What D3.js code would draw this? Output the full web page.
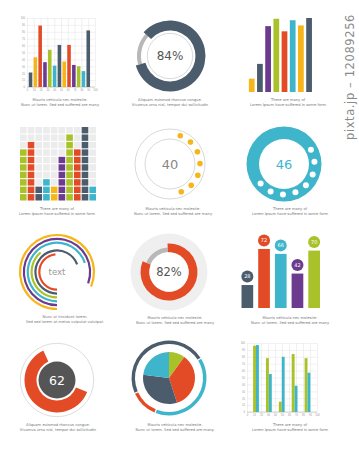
<!DOCTYPE html>
<html><head><meta charset="utf-8">
<script src="https://cdnjs.cloudflare.com/ajax/libs/d3/7.8.5/d3.min.js"></script>
<style>body{margin:0;background:#fff}svg{display:block;font-family:"DejaVu Sans",sans-serif}</style>
</head><body><svg id="c" width="359" height="450"></svg>
<script>
// ---------- data ----------
const palette = {slate:"#4b5c6d", yellow:"#f6b619", red:"#e34b26", purple:"#6c3a8e", green:"#aac22a", cyan:"#3eb5cb"};
const axisTicks = [0,10,20,30,40,50,60,70,80,90,100];
const p1Values = [21,43,89,36,54,31,61,37,61,32,30,23,82];
const p1Colors = ["slate","yellow","red","purple","green","cyan","slate","yellow","red","purple","green","cyan","slate"];
const p2Percent = 84;
const p3Values = [18,38,89,99,82,97,90,100];
const p3Colors = ["yellow","slate","purple","green","red","cyan","yellow","slate"];
const p4Values = [7,8,2,3,2,6,9,7,10,2];
const p4Colors = ["green","red","slate","cyan","yellow","purple","green","red","slate","cyan"];
const p5Value = 40;
const p5DotAngles = [20,43,66,89,112,135,158];
const p6Value = 46;
const p6DotAngles = [62,86,110,134,158,182,206,230];
const p7Label = "text";
const p7Spans = [293,290,252,140,249,175];
const p7Colors = ["yellow","purple","cyan","green","slate","red"];
const p8Percent = 82;
const p9Values = [28,72,66,42,70];
const p9Colors = ["slate","red","cyan","purple","green"];
const p10Value = 62;
const p11Slices = [10,35,32,23];
const p11SliceColors = ["green","red","slate","cyan"];
const p11Ring = [48,40,12];
const p11RingColors = ["slate","cyan","red"];
const p12A = [96,78,15,84,78];
const p12B = [97,55,80,38,57];
const capA = ["Mauris vehicula nec molestie.","Nunc ut lorem. Sed sed  suffered  are many"];
const capB = ["Aliquam euismod rhoncus congue.","Vivamus urna nisl,  tempor dui sollicitudin"];
const capC = ["There are many  of","Lorem Ipsum  have suffered  in some form"];
const capD = ["Nunc ut tincidunt lorem.","Sed sed lorem at metus vulputat volutpat."];

// ---------- helpers ----------
const svg = d3.select("#c");
const rad = d => d*Math.PI/180;
const arc = d3.arc();

svg.append("text").attr("transform","translate(354,140) rotate(-90)")
  .attr("font-size",11.5).attr("fill","#8a8a8a").attr("letter-spacing",0.6).text("pixta.jp – 12089256");

function caption(cx, y, lines){
  lines.forEach((t,i)=>svg.append("text").attr("x",cx).attr("y",y+i*5.2)
    .attr("text-anchor","middle").attr("font-size",3.7).attr("fill","#777").text(t));
}
function grid(g, x0,x1,y0,y1){
  const gx = d3.scaleLinear([0,100],[x0,x1]);
  const gy = d3.scaleLinear([0,100],[y1,y0]);
  const ax = g.append("g").attr("transform",`translate(0,${y1})`)
    .call(d3.axisBottom(gx).tickValues(axisTicks).tickSize(-(y1-y0)).tickPadding(2));
  const ay = g.append("g").attr("transform",`translate(${x0},0)`)
    .call(d3.axisLeft(gy).tickValues(axisTicks).tickSize(-(x1-x0)).tickPadding(2));
  [ax,ay].forEach(a=>{
    a.select(".domain").remove();
    a.selectAll("line").attr("stroke","#e2e2e2").attr("stroke-width",0.5);
    a.selectAll("text").attr("font-size",2.6).attr("fill","#999");
  });
  g.append("line").attr("x1",x0).attr("x2",x1).attr("y1",y1).attr("y2",y1).attr("stroke","#bbb").attr("stroke-width",0.6);
  return {gx,gy};
}

// ---------- panel 1 ----------
{
  const g = svg.append("g");
  const {gy} = grid(g,27,95,18,87);
  const xb = d3.scaleBand(d3.range(p1Values.length),[27.5,91.3]).padding(0.26);
  g.selectAll("rect.b").data(p1Values).join("rect")
    .attr("x",(d,i)=>xb(i)).attr("width",xb.bandwidth())
    .attr("y",d=>gy(d)).attr("height",d=>gy(0)-gy(d))
    .attr("fill",(d,i)=>palette[p1Colors[i]]);
  caption(60,101,capA);
}

// ---------- panel 2 ----------
{
  const g = svg.append("g").attr("transform","translate(170,56)");
  const start = -48, span = 360*p2Percent/100;
  g.append("path").attr("d",arc({innerRadius:29,outerRadius:33,startAngle:rad(start+span),endAngle:rad(start+360)})).attr("fill","#b8b8b8");
  g.append("path").attr("d",arc({innerRadius:25.5,outerRadius:35.5,startAngle:rad(start),endAngle:rad(start+span)})).attr("fill",palette.slate);
  g.append("circle").attr("r",22.7).attr("fill","none").attr("stroke","#c8c8c8").attr("stroke-width",0.7);
  g.append("text").attr("y",4.2).attr("text-anchor","middle").attr("font-size",12).attr("fill","#555").text(p2Percent+"%");
  caption(170,101,capB);
}

// ---------- panel 3 ----------
{
  const g = svg.append("g");
  const xb = d3.scaleBand(d3.range(p3Values.length),[246.4,314.4]).padding(0.3);
  const y = d3.scaleLinear([0,100],[92,18]);
  g.selectAll("rect").data(p3Values).join("rect")
    .attr("x",(d,i)=>xb(i)).attr("width",xb.bandwidth())
    .attr("y",d=>y(d)).attr("height",d=>y(0)-y(d))
    .attr("fill",(d,i)=>palette[p3Colors[i]]);
  caption(288,101,capC);
}

// ---------- panel 4 ----------
{
  const g = svg.append("g");
  const xs = d3.scaleBand(d3.range(10),[20,96]).paddingInner(0.14);
  const ys = d3.scaleBand(d3.range(10),[200.5,127]).paddingInner(0.14);
  const cells = [];
  p4Values.forEach((v,c)=>d3.range(10).forEach(r=>cells.push({c,r,on:r<v})));
  g.selectAll("rect").data(cells).join("rect")
    .attr("x",d=>xs(d.c)).attr("y",d=>ys(d.r)).attr("width",xs.bandwidth()).attr("height",ys.bandwidth())
    .attr("fill",d=>d.on?palette[p4Colors[d.c]]:"#ececec");
  caption(57,210,capC);
}

// ---------- panel 5 ----------
{
  const g = svg.append("g").attr("transform","translate(170,164)");
  g.append("circle").attr("r",35).attr("fill","none").attr("stroke","#c8c8c8").attr("stroke-width",0.7);
  g.append("circle").attr("r",25).attr("fill","none").attr("stroke","#c8c8c8").attr("stroke-width",0.7);
  g.selectAll("circle.d").data(p5DotAngles).join("circle").attr("class","d")
    .attr("cx",a=>30*Math.sin(rad(a))).attr("cy",a=>-30*Math.cos(rad(a))).attr("r",2.8).attr("fill",palette.yellow);
  g.append("text").attr("y",4.5).attr("text-anchor","middle").attr("font-size",13).attr("fill","#888").text(p5Value);
  caption(173,210,capA);
}

// ---------- panel 6 ----------
{
  const g = svg.append("g").attr("transform","translate(284,164)");
  g.append("path").attr("d",arc({innerRadius:25,outerRadius:37.5,startAngle:0,endAngle:2*Math.PI})).attr("fill",palette.cyan);
  g.selectAll("circle.d").data(p6DotAngles).join("circle").attr("class","d")
    .attr("cx",a=>30.5*Math.sin(rad(a))).attr("cy",a=>-30.5*Math.cos(rad(a))).attr("r",3).attr("fill","#fff");
  g.append("text").attr("y",4.5).attr("text-anchor","middle").attr("font-size",13).attr("fill",palette.cyan).text(p6Value);
  caption(290,210,capC);
}

// ---------- panel 7 ----------
{
  const g = svg.append("g").attr("transform","translate(57,272)");
  const radii = d3.scaleLinear([0,p7Spans.length-1],[37,17.7]);
  g.selectAll("path").data(p7Spans).join("path")
    .attr("d",(s,i)=>arc({innerRadius:radii(i)-1.1,outerRadius:radii(i)+1.1,startAngle:rad(180),endAngle:rad(180+s)}))
    .attr("fill",(s,i)=>palette[p7Colors[i]]);
  g.append("text").attr("y",3).attr("text-anchor","middle").attr("font-size",8.5).attr("fill","#999").text(p7Label);
  caption(65,318,capD);
}

// ---------- panel 8 ----------
{
  const g = svg.append("g").attr("transform","translate(169,272)");
  g.append("circle").attr("r",38.5).attr("fill","#efefef");
  const start = -3, span = 360*p8Percent/100;
  g.append("path").attr("d",arc({innerRadius:20,outerRadius:24.5,startAngle:rad(start+span),endAngle:rad(start+360)})).attr("fill","#b8b8b8");
  g.append("path").attr("d",arc({innerRadius:19.5,outerRadius:28.5,startAngle:rad(start),endAngle:rad(start+span)})).attr("fill",palette.red);
  g.append("circle").attr("r",19.7).attr("fill","#fff");
  g.append("text").attr("y",4).attr("text-anchor","middle").attr("font-size",11.5).attr("fill","#555").text(p8Percent+"%");
  caption(175,318.5,capA);
}

// ---------- panel 9 ----------
{
  const g = svg.append("g");
  const xb = d3.scaleBand(d3.range(p9Values.length),[236.5,325]).padding(0.3);
  const y = d3.scaleLinear([0,100],[308,226]);
  g.selectAll("rect").data(p9Values).join("rect")
    .attr("x",(d,i)=>xb(i)).attr("width",xb.bandwidth())
    .attr("y",d=>y(d)).attr("height",d=>y(0)-y(d))
    .attr("fill",(d,i)=>palette[p9Colors[i]]);
  g.selectAll("circle").data(p9Values).join("circle")
    .attr("cx",(d,i)=>xb(i)+xb.bandwidth()/2).attr("cy",d=>y(d)-8.5).attr("r",6)
    .attr("fill",(d,i)=>palette[p9Colors[i]]);
  g.selectAll("text.v").data(p9Values).join("text").attr("class","v")
    .attr("x",(d,i)=>xb(i)+xb.bandwidth()/2).attr("y",d=>y(d)-6.7)
    .attr("text-anchor","middle").attr("font-size",5).attr("fill","#fff").text(d=>d);
  caption(290,318.5,capA);
}

// ---------- panel 10 ----------
{
  const g = svg.append("g").attr("transform","translate(57,380)");
  g.append("circle").attr("r",36.7).attr("fill","none").attr("stroke","#cfcfcf").attr("stroke-width",0.7);
  const end = 335, span = 360*p10Value/100;
  g.append("path").attr("d",arc({innerRadius:20.5,outerRadius:32.5,startAngle:rad(end-span),endAngle:rad(end)})).attr("fill",palette.red);
  g.append("circle").attr("r",18.5).attr("fill","#555");
  g.append("text").attr("y",4.5).attr("text-anchor","middle").attr("font-size",12.5).attr("fill","#fff").text(p10Value);
  caption(58,425.5,capB);
}

// ---------- panel 11 ----------
{
  const g = svg.append("g").attr("transform","translate(169,378)");
  const ringPie = d3.pie().sort(null).startAngle(rad(246)).endAngle(rad(246+360)).padAngle(0.025);
  g.selectAll("path.r").data(ringPie(p11Ring)).join("path").attr("class","r")
    .attr("d",d=>arc({...d,innerRadius:34,outerRadius:37.5})).attr("fill",(d,i)=>palette[p11RingColors[i]]);
  const pie = d3.pie().sort(null);
  g.selectAll("path.s").data(pie(p11Slices)).join("path").attr("class","s")
    .attr("d",d=>arc({...d,innerRadius:0,outerRadius:26})).attr("fill",(d,i)=>palette[p11SliceColors[i]]);
  caption(175,425.5,[capA[0],capA[1]+"."]);
}

// ---------- panel 12 ----------
{
  const g = svg.append("g");
  const {gy} = grid(g,247,317,343,412);
  const x0 = d3.scaleBand(d3.range(p12A.length),[249.5,314]).paddingInner(0.55).paddingOuter(0.28);
  const x1 = d3.scaleBand([0,1],[0,x0.bandwidth()]);
  const groups = p12A.map((a,i)=>[a,p12B[i]]);
  const gg = g.selectAll("g.grp").data(groups).join("g").attr("class","grp").attr("transform",(d,i)=>`translate(${x0(i)},0)`);
  gg.selectAll("rect").data(d=>d).join("rect")
    .attr("x",(d,j)=>x1(j)).attr("width",x1.bandwidth())
    .attr("y",d=>gy(d)).attr("height",d=>gy(0)-gy(d))
    .attr("fill",(d,j)=>j===0?palette.green:palette.cyan);
  caption(290,425.5,capC);
}
</script></body></html>
